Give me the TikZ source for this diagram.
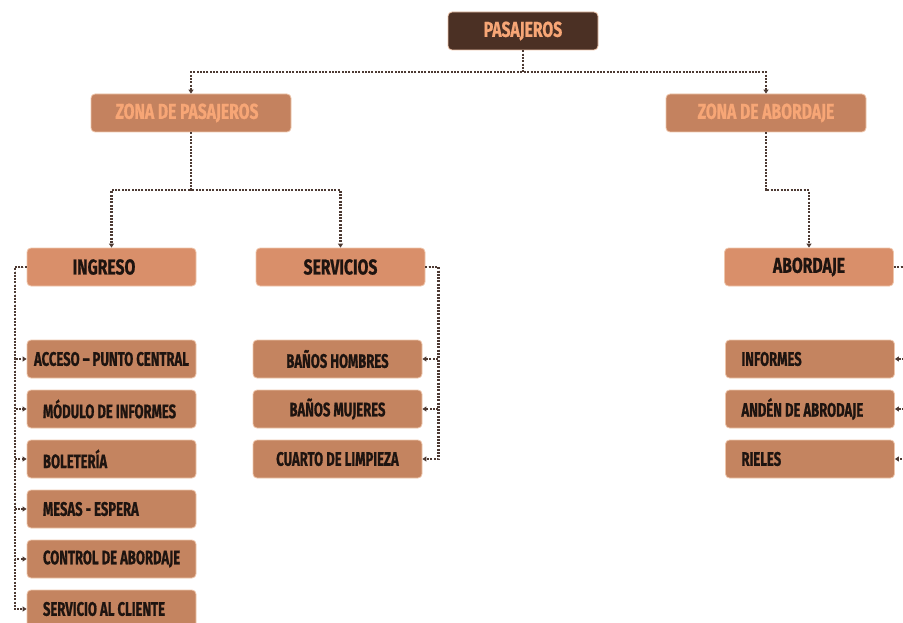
\documentclass[tikz,border=0pt]{standalone}
\usepackage{fontspec}
\newfontfamily\headfont[FakeStretch=0.73,BoldFeatures={FakeBold=0.8}]{Fira Sans}
\newfontfamily\itemfont[FakeStretch=0.67,BoldFeatures={FakeBold=0.8}]{Fira Sans}
\usetikzlibrary{arrows.meta}
\definecolor{topbrown}{HTML}{4B3024}
\definecolor{salmon}{HTML}{F7A676}
\definecolor{zonebrown}{HTML}{C4825F}
\definecolor{groupbrown}{HTML}{D98F6A}
\definecolor{itembrown}{HTML}{C48460}
\definecolor{ink}{HTML}{1E1410}
\definecolor{linkbrown}{HTML}{4D3A33}
\definecolor{rim}{HTML}{EEC6AC}
\newcommand\lefttext[1]{\makebox[137pt][l]{#1}}
\begin{document}
\begin{tikzpicture}[x=1pt,y=-1pt,
  box/.style={rounded corners=4pt,draw=rim,line width=0.8pt,minimum height=38pt,inner sep=0pt},
  headbox/.style={box,font=\headfont\bfseries\fontsize{21.5}{23}\selectfont},
  topbox/.style={headbox,fill=topbrown,text=salmon,minimum width=150pt},
  zonebox/.style={headbox,fill=zonebrown,text=salmon,minimum width=200pt},
  groupbox/.style={headbox,fill=groupbrown,text=ink,minimum width=169pt},
  itembox/.style={box,fill=itembrown,text=ink,minimum width=169pt,
    font=\itemfont\bfseries\fontsize{19.5}{21}\selectfont},
  link/.style={draw=linkbrown,line width=2.2pt,dash pattern=on 2pt off 1.3pt},
  tip/.style={-{Triangle[length=4pt,width=5pt]}}]
\useasboundingbox (0,0) rectangle (903,623);
\clip (0,0) rectangle (903,623);
% top levels
\node[topbox] (pas) at (523,31) {PASAJEROS};
\node[zonebox] (zpas) at (191,113) {\hspace*{-8pt}ZONA DE PASAJEROS};
\node[zonebox] (zabo) at (766,113) {ZONA DE ABORDAJE};
\node[groupbox] (ing) at (111.5,267) {\hspace*{-15pt}INGRESO};
\node[groupbox] (ser) at (340.5,267) {SERVICIOS};
\node[groupbox] (abo) at (809,267) {ABORDAJE};
% ingreso
\node[itembox] (acc) at (111.5,359) {ACCESO – PUNTO CENTRAL};
\node[itembox] (mod) at (111.5,409) {\lefttext{MÓDULO DE INFORMES}};
\node[itembox] (bol) at (111.5,459) {\lefttext{BOLETERÍA}};
\node[itembox] (mes) at (111.5,509) {\lefttext{MESAS - ESPERA}};
\node[itembox] (con) at (111.5,559) {\lefttext{CONTROL DE ABORDAJE}};
\node[itembox] (cli) at (111.5,609) {\lefttext{SERVICIO AL CLIENTE}};
% servicios
\node[itembox] (hom) at (337.5,359) {BAÑOS HOMBRES};
\node[itembox] (muj) at (337.5,409) {BAÑOS MUJERES};
\node[itembox] (lim) at (337.5,459) {CUARTO DE LIMPIEZA};
% abordaje
\node[itembox] (inf) at (810,359) {\lefttext{INFORMES}};
\node[itembox] (and) at (810,409) {\lefttext{ANDÉN DE ABRODAJE}};
\node[itembox] (rie) at (810,459) {\lefttext{RIELES}};
% connectors
\draw[link,tip] (pas.south) -- ++(0,22) -| (zpas.north);
\draw[link,tip] (pas.south) -- ++(0,22) -| (zabo.north);
\draw[link,tip] (zpas.south) -- ++(0,58) -| (ing.north);
\draw[link,tip] (zpas.south) -- ++(0,58) -| (ser.north);
\draw[link,tip] (zabo.south) -- ++(0,58) -| (abo.north);
\foreach \c in {acc,mod,bol,mes,con,cli}
  \draw[link,tip] (ing.west) -- ++(-12,0) |- (\c.west);
\foreach \c in {hom,muj,lim}
  \draw[link,tip] (ser.east) -- ++(13,0) |- (\c.east);
\foreach \c in {inf,and,rie}
  \draw[link,tip] (abo.east) -- ++(20,0) |- (\c.east);
\end{tikzpicture}
\end{document}
